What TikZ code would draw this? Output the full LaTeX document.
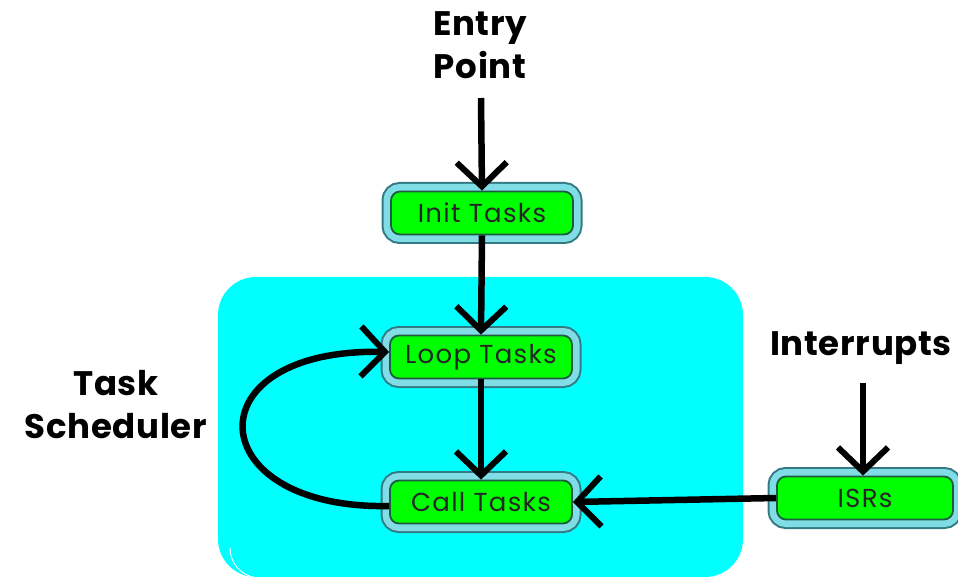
\documentclass[tikz,border=0pt]{standalone}
\usepackage{fontspec}
\newfontfamily\gothic{Poppins}
\usetikzlibrary{arrows.meta}
\definecolor{boxgreen}{HTML}{00FF00}
\definecolor{edgelight}{HTML}{80DDE6}
\definecolor{edgedark}{HTML}{347A84}
\definecolor{innerline}{HTML}{1E5A40}
\definecolor{region}{HTML}{00FFFF}
\tikzset{
  taskbox/.style={rounded corners=9pt, minimum width=182pt, minimum height=43pt,
    inner sep=0pt, fill=boxgreen, draw=innerline, line width=1.8pt,
    preaction={draw=edgedark, line width=19pt},
    preaction={draw=edgelight, line width=15pt},
    font=\gothic\fontsize{26}{28}\selectfont\addfontfeature{LetterSpace=5}, text=black!85},
  title/.style={font=\gothic\bfseries\fontsize{34}{43}\selectfont\addfontfeature{LetterSpace=2}, align=center, text=black},
  flow/.style={line width=6.5pt, -{Straight Barb[length=24pt, width=50pt, line width=6pt]}},
}
\begin{document}
\begin{tikzpicture}[x=1pt, y=-1pt]
\useasboundingbox (0,0) rectangle (958,577);
\fill[white] (0,0) rectangle (958,577);
% scheduler region
\fill[region, rounded corners=38pt] (218,277) rectangle (743,577);
\draw[white, line width=1pt] (230,548) arc[start angle=180, end angle=260, radius=30pt];

% titles
\node[title] (entry) at (480,45) {Entry\\Point};
\node[title] (intr) at (861,348) {Interrupts};
\node[title] (sched) at (116,405) {Task\\Scheduler};

% boxes
\node[taskbox] (init) at (482,213) {Init Tasks};
\node[taskbox] (loop) at (481,357) {Loop Tasks};
\node[taskbox] (call) at (481,502) {Call Tasks};
\node[taskbox, minimum width=176pt] (isr) at (865,498) {ISRs};

\coordinate (entryend) at (481,98);
\coordinate (intrend) at (863,383);

% connectors
\draw[flow] (entryend) -- (init.north);
\draw[flow] (init.south) -- (loop.north);
\draw[flow] (loop.south) -- (call.north);
\draw[flow] (intrend) -- (isr.north -| intrend);
\draw[flow] (isr.west) -- (call.east);
\draw[flow] ([yshift=-4pt]call.west) .. controls (200,510) and (190,348) .. ([yshift=5pt]loop.west);
\end{tikzpicture}
\end{document}
